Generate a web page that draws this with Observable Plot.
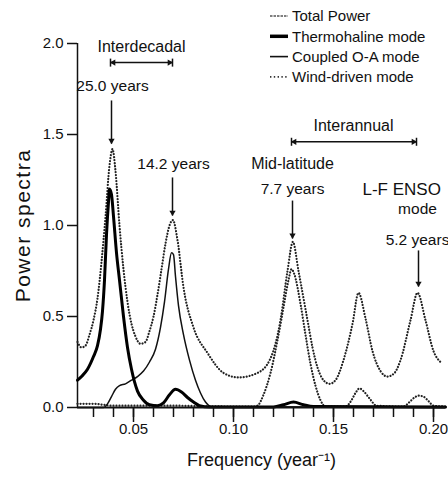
<!DOCTYPE html>
<html><head><meta charset="utf-8">
<script src="https://cdn.jsdelivr.net/npm/d3@7"></script>
<script src="https://cdn.jsdelivr.net/npm/@observablehq/plot@0.6"></script>
<style>
body{margin:0;background:#fff;overflow:hidden}
#chart{position:relative;width:448px;height:482px;overflow:hidden}
</style></head><body><div id="chart"></div>
<script>
// [frequency (1/yr), power]
const totalPower = [
  [0.022,0.36],[0.024,0.33],[0.026,0.34],[0.028,0.40],[0.030,0.48],[0.032,0.60],[0.034,0.80],
  [0.036,1.05],[0.038,1.33],[0.0395,1.42],[0.041,1.30],[0.043,1.00],[0.045,0.76],[0.047,0.58],
  [0.049,0.46],[0.051,0.39],[0.0535,0.35],[0.056,0.36],[0.058,0.42],[0.060,0.50],[0.062,0.62],
  [0.064,0.76],[0.066,0.90],[0.068,1.00],[0.0697,1.03],[0.072,0.92],[0.075,0.66],[0.080,0.44],
  [0.087,0.30],[0.095,0.19],[0.1025,0.165],[0.112,0.19],[0.1185,0.27],[0.1235,0.48],[0.127,0.75],
  [0.1297,0.91],[0.1325,0.75],[0.137,0.48],[0.1395,0.33],[0.142,0.22],[0.145,0.15],[0.148,0.13],
  [0.151,0.15],[0.155,0.26],[0.1595,0.46],[0.1625,0.63],[0.166,0.49],[0.1695,0.31],[0.1735,0.20],
  [0.177,0.17],[0.1805,0.19],[0.1835,0.26],[0.1885,0.48],[0.192,0.63],[0.196,0.48],[0.200,0.31],
  [0.2035,0.25]
];
const thermohaline = [
  [0.022,0.15],[0.024,0.17],[0.027,0.21],[0.030,0.28],[0.032,0.34],[0.0335,0.43],[0.0345,0.53],
  [0.0355,0.70],[0.0365,0.95],[0.0375,1.13],[0.038,1.20],[0.039,1.17],[0.040,1.05],[0.0415,0.85],
  [0.043,0.70],[0.045,0.50],[0.047,0.33],[0.049,0.21],[0.052,0.09],[0.055,0.04],[0.058,0.015],
  [0.062,0.01],[0.065,0.025],[0.068,0.07],[0.071,0.10],[0.074,0.085],[0.077,0.055],[0.080,0.03],
  [0.083,0.01],[0.088,0.003],[0.120,0.003],[0.125,0.015],[0.130,0.03],[0.135,0.015],[0.140,0.005],
  [0.206,0.003]
];
const coupledOA = [
  [0.022,0.0],[0.035,0.0],[0.037,0.02],[0.039,0.06],[0.041,0.10],[0.043,0.12],[0.046,0.13],
  [0.049,0.15],[0.052,0.17],[0.055,0.20],[0.058,0.25],[0.061,0.32],[0.0635,0.44],[0.0655,0.58],
  [0.0675,0.76],[0.069,0.85],[0.070,0.84],[0.071,0.72],[0.0725,0.56],[0.075,0.40],[0.078,0.26],
  [0.081,0.15],[0.0835,0.08],[0.086,0.03],[0.089,0.005],[0.206,0.0]
];
const windDriven = [
  [0.022,0.02],[0.030,0.02],[0.035,0.015],[0.040,0.01],[0.050,0.01],[0.070,0.01],[0.090,0.006],
  [0.110,0.005],[0.112,0.01],[0.115,0.07],[0.1185,0.19],[0.122,0.37],[0.125,0.55],[0.1275,0.70],
  [0.129,0.76],[0.1305,0.73],[0.1335,0.57],[0.136,0.40],[0.1385,0.24],[0.141,0.12],[0.1435,0.04],
  [0.146,0.005],[0.156,0.005],[0.159,0.04],[0.161,0.08],[0.163,0.105],[0.165,0.09],[0.168,0.05],
  [0.1715,0.01],[0.185,0.005],[0.188,0.03],[0.1905,0.055],[0.1925,0.065],[0.195,0.06],[0.1975,0.035],
  [0.200,0.01],[0.206,0.005]
];

const xDomain = [0.022, 0.206];
const yDomain = [0, 2];
const yTicks = [0, 0.5, 1.0, 1.5, 2.0];
const xMajorTicks = [0.05, 0.10, 0.15, 0.20];
const xMinorTicks = [0.03,0.04,0.05,0.06,0.07,0.08,0.09,0.10,0.11,0.12,0.13,0.14,0.15,0.16,0.17,0.18,0.19,0.20];

const legendNames = ["Total Power", "Thermohaline mode", "Coupled O-A mode", "Wind-driven mode"];

const labels = [
  {text:"Interdecadal", x:0.054, y:1.98, size:16},
  {text:"25.0 years", x:0.0395, y:1.764, size:15.5},
  {text:"14.2 years", x:0.070, y:1.34, size:15.5},
  {text:"Interannual", x:0.160, y:1.55, size:16},
  {text:"Mid-latitude", x:0.1295, y:1.34, size:16},
  {text:"7.7 years", x:0.1295, y:1.198, size:15.5},
  {text:"mode", x:0.192, y:1.088, size:15.5},
  {text:"5.2 years", x:0.192, y:0.918, size:15.5}
];
const ensoLabel = [{text:"L-F ENSO", x:0.1645, y:1.198}];

const downArrows = [
  {x:0.039, y1:1.687, y2:1.45},
  {x:0.0695, y1:1.264, y2:1.055},
  {x:0.1295, y1:1.137, y2:0.929},
  {x:0.1925, y1:0.863, y2:0.665}
];
const spans = [
  {x1:0.0385, x2:0.0695, y:1.895},
  {x1:0.129, x2:0.1915, y:1.46}
];

const rows = (pairs) => pairs.map(([f, p]) => ({f, p}));
const FONT = "Liberation Sans, Arial, Helvetica, sans-serif";

const legendStyles = [
  {stroke:"#555", width:1.3, dash:"2.5,1", cap:"butt"},
  {stroke:"#000", width:3.5, dash:null, cap:"butt"},
  {stroke:"#111", width:1.6, dash:null, cap:"butt"},
  {stroke:"#333", width:1.6, dash:"1.4,2.4", cap:"butt"}
];

function legendMark() {
  const g = d3.create("svg:g").attr("font-family", FONT).attr("font-size", 15)
    .attr("fill", "#111").attr("text-anchor", "start");
  legendNames.forEach((name, i) => {
    const y = 16 + i * 20.3;
    const s = legendStyles[i];
    const ln = g.append("line").attr("x1", 270).attr("x2", 288).attr("y1", y).attr("y2", y)
      .attr("stroke", s.stroke).attr("stroke-width", s.width);
    if (s.dash) ln.attr("stroke-dasharray", s.dash);
    g.append("text").attr("x", 292).attr("y", y).attr("dy", "0.35em").text(name);
  });
  return g.node();
}

const bar = 0.022;
const dotted = {strokeWidth: 2.2, strokeDasharray: "0.1,2.9", strokeLinecap: "round"};

const plot = Plot.plot({
  width: 448, height: 482,
  marginLeft: 77, marginRight: 3, marginTop: 43, marginBottom: 75,
  style: {fontFamily: FONT, fontSize: "15px", color: "#111", background: "white"},
  x: {domain: xDomain},
  y: {domain: yDomain},
  marks: [
    Plot.axisY({ticks: yTicks, tickSize: 10, tickPadding: 4, tickFormat: d3.format(".1f"), fontSize: 15, label: null, strokeWidth: 1.5}),
    Plot.axisX({ticks: xMinorTicks, tickSize: 10, tickFormat: () => "", label: null, strokeWidth: 1.5}),
    Plot.axisX({ticks: xMajorTicks, tickSize: 15, tickPadding: 1, tickFormat: d3.format(".2f"), fontSize: 15, label: null, strokeWidth: 1.5}),
    Plot.ruleX([xDomain[0]], {y1: yDomain[0], y2: yDomain[1], strokeWidth: 1.5}),
    Plot.line(rows(totalPower), {x:"f", y:"p", curve:"monotone-x", stroke:"#222", ...dotted}),
    Plot.line(rows(windDriven), {x:"f", y:"p", curve:"monotone-x", stroke:"#222", ...dotted}),
    Plot.line(rows(coupledOA), {x:"f", y:"p", curve:"monotone-x", stroke:"#111", strokeWidth:1.5}),
    Plot.line(rows(thermohaline), {x:"f", y:"p", curve:"monotone-x", stroke:"#000", strokeWidth:3}),
    Plot.ruleY([0], {strokeWidth: 2}),
    // annotations
    Plot.text(labels, {x:"x", y:"y", text:"text", fontSize: d => d.size, fill:"#111"}),
    Plot.text(ensoLabel, {x:"x", y:"y", text:"text", fontSize:17, textAnchor:"start", fill:"#111"}),
    Plot.link(downArrows, {x1:"x", x2:"x", y1:"y1", y2:"y2", strokeWidth:1.5, stroke:"#111"}),
    Plot.dot(downArrows, {x:"x", y:"y2", symbol:"triangle2", rotate:180, r:3, fill:"#111", stroke:null, dy:-3}),
    Plot.link(spans, {x1:"x1", x2:"x2", y1:"y", y2:"y", strokeWidth:1.5, stroke:"#111"}),
    Plot.link(spans, {x1:"x1", x2:"x1", y1:d => d.y - bar, y2:d => d.y + bar, strokeWidth:1.5, stroke:"#111"}),
    Plot.link(spans, {x1:"x2", x2:"x2", y1:d => d.y - bar, y2:d => d.y + bar, strokeWidth:1.5, stroke:"#111"}),
    Plot.dot(spans, {x:"x2", y:"y", symbol:"triangle2", rotate:90, r:3, fill:"#111", stroke:null, dx:-3}),
    Plot.dot(spans, {x:"x1", y:"y", symbol:"triangle2", rotate:-90, r:3, fill:"#111", stroke:null, dx:3}),
    // axis titles
    Plot.text(["Power spectra"], {frameAnchor:"left", textAnchor:"middle", dx:-54, rotate:-90, fontSize:21, fill:"#111"}),
    Plot.text(["Frequency (year\u207B\u00B9)"], {frameAnchor:"bottom", dy:58, fontSize:18, fill:"#111"}),
    legendMark
  ]
});

d3.select(plot).selectAll("text").filter(function(){ return this.textContent === "Power spectra"; })
  .attr("letter-spacing", "1.5px");

document.getElementById("chart").appendChild(plot);
</script></body></html>
